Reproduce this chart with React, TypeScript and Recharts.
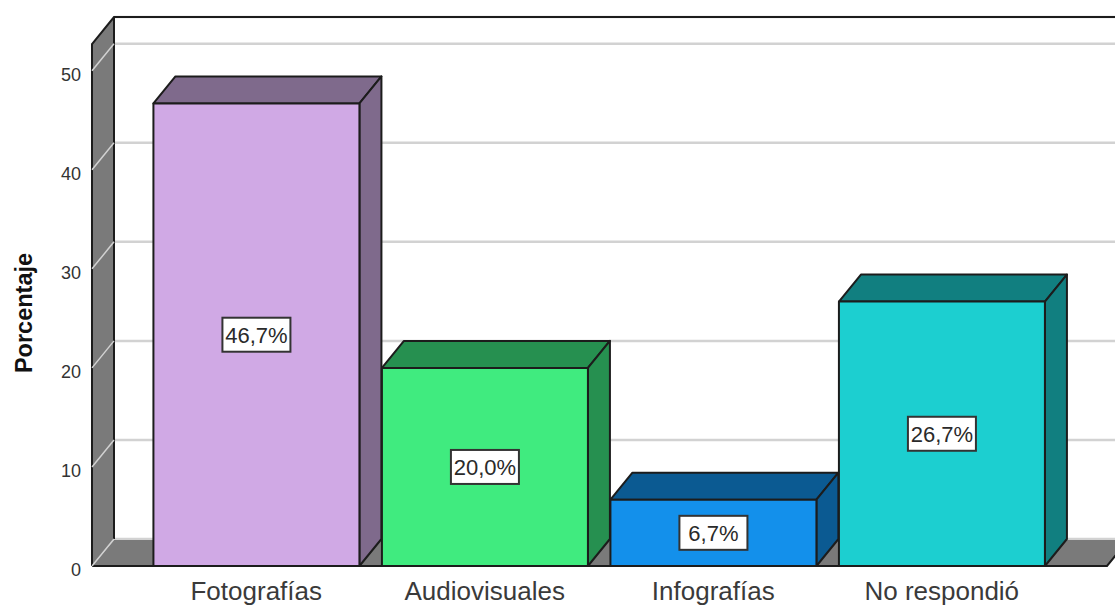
import React from 'react';
import { BarChart, Bar, XAxis, YAxis, CartesianGrid, LabelList } from 'recharts';

const categories = ['Fotografías', 'Audiovisuales', 'Infografías', 'No respondió'];
const percentages = [46.7, 20.0, 6.7, 26.7];
const yTicks = [0, 10, 20, 30, 40, 50];
const frontColors = ['#D0A9E5', '#40EB7F', '#1390EB', '#1CCFD0'];
const darkColors = ['#7F6A8C', '#269050', '#0B5A92', '#117F80'];

const data = categories.map((name, i) => ({ name, value: percentages[i] }));

const DX = 22;
const DY = 27;
const EDGE = '#1c1c1c';
const WALL = '#7A7A7A';
const GRID = '#D2D2D2';
const FONT = '"Liberation Sans", Arial, sans-serif';

// bar with its top and side faces
const Bar3D = (props: any) => {
  const { x, y, width, height, index } = props;
  const dark = darkColors[index];
  const right = x + width;
  return (
    <g stroke={EDGE} strokeWidth={2} strokeLinejoin="round">
      <polygon fill={dark} points={`${x},${y} ${x + DX},${y - DY} ${right + DX},${y - DY} ${right},${y}`} />
      <polygon fill={dark} points={`${right},${y} ${right + DX},${y - DY} ${right + DX},${y + height - DY} ${right},${y + height}`} />
      <rect x={x} y={y} width={width} height={height} fill={frontColors[index]} />
    </g>
  );
};

const ValueBox = (props: any) => {
  const { x, y, width, height, value } = props;
  const cx = x + width / 2;
  const cy = y + height / 2;
  return (
    <g>
      <rect x={cx - 34} y={cy - 17} width={68} height={34} fill="#fff" stroke="#333" strokeWidth={2} />
      <text x={cx} y={cy + 8} textAnchor="middle" fontSize={22} fontFamily={FONT} fill="#2a2a2a">
        {value.toFixed(1).replace('.', ',') + '%'}
      </text>
    </g>
  );
};

// gridlines sit on the back wall
const WallLine = (props: any) => (
  <line x1={114} x2={1115} y1={props.y1 - DY} y2={props.y1 - DY} stroke={GRID} strokeWidth={2.5} />
);

// tick label plus the diagonal across the side wall
const WallTick = (props: any) => {
  const { x, y, payload } = props;
  return (
    <g>
      <line x1={92} x2={114} y1={y} y2={y - DY} stroke={GRID} strokeWidth={1.5} />
      <text x={x} y={y + 10} textAnchor="end" fontSize={18} fontFamily={FONT} fill="#333">
        {payload.value}
      </text>
    </g>
  );
};

export default function App() {
  return (
    <div style={{ position: 'absolute', left: 0, top: 0, width: 1115, height: 605, background: '#fff' }}>
      <BarChart
        width={1115}
        height={605}
        data={data}
        barCategoryGap="5%"
        margin={{ top: 44, right: 59, bottom: 0, left: 62 }}
      >
        <polygon points="92,44 114,17 114,540 92,566" fill={WALL} />
        <polygon points="92,566 114,540 1129,540 1107,566" fill={WALL} />
        <CartesianGrid vertical={false} horizontal={(p: any) => <WallLine key={p.key} {...p} />} />
        <path d="M92,566 V44 L114,17 H1115 M114,17 V539 M92,566 H1107 L1129,539" fill="none" stroke={EDGE} strokeWidth={2} />
        <XAxis
          dataKey="name"
          height={39}
          axisLine={false}
          tickLine={false}
          interval={0}
          tickMargin={10}
          tick={{ fontSize: 26, fontFamily: FONT, fill: '#3a3a3a' }}
        />
        <YAxis
          width={80}
          domain={[0, 52.7]}
          ticks={yTicks}
          axisLine={false}
          tickLine={false}
          tickSize={0}
          tickMargin={61}
          tick={<WallTick />}
        />
        <Bar dataKey="value" isAnimationActive={false} shape={<Bar3D />}>
          <LabelList dataKey="value" content={<ValueBox />} />
        </Bar>
        <text
          transform="translate(32,313) rotate(-90)"
          textAnchor="middle"
          fontSize={23.5}
          fontWeight="bold"
          fontFamily={FONT}
          fill="#111"
        >
          Porcentaje
        </text>
      </BarChart>
    </div>
  );
}
